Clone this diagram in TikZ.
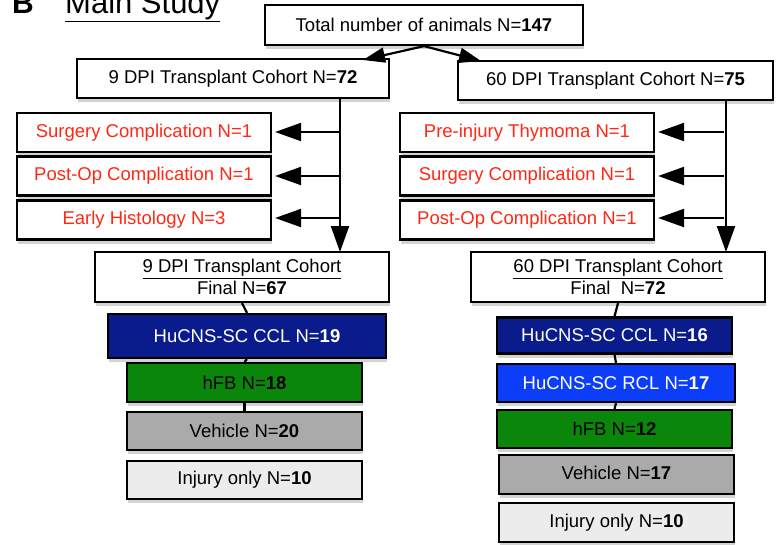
\documentclass[tikz,border=0pt]{standalone}
\usepackage{fontspec}
\setmainfont{Liberation Sans}
\usetikzlibrary{arrows.meta,shadows}
\definecolor{redtxt}{RGB}{255,40,20}
\definecolor{dblue}{RGB}{10,28,140}
\definecolor{bblue}{RGB}{12,62,250}
\definecolor{grn}{RGB}{10,135,10}
\definecolor{gry}{RGB}{170,170,170}
\definecolor{lgry}{RGB}{236,236,236}
\begin{document}
\begin{tikzpicture}[x=1pt,y=-1pt,
  bx/.style={draw=black, line width=2.2pt, fill=white, rectangle, inner sep=0pt,
    font=\fontsize{18.5}{21}\selectfont, align=center,
    drop shadow={shadow xshift=1pt, shadow yshift=-4pt, opacity=0.35, fill=gray}},
  redbx/.style={bx, text=redtxt, minimum width=254pt, minimum height=39pt},
  arr/.style={line width=2.2pt, -{Triangle[length=26pt,width=18pt]}},
  tarr/.style={line width=2.2pt, -{Triangle[length=22pt,width=15pt]}},
  conn/.style={line width=2.2pt}]
\useasboundingbox (0,0) rectangle (778,544);

% title
\node[anchor=base west, inner sep=0pt, font=\fontsize{30}{32}\selectfont\bfseries] (B) at (12,13) {B};
\node[anchor=base west, inner sep=0pt, font=\fontsize{31}{33}\selectfont] (title) at (65,13) {\underline{Main Study}};

% top
\node[bx, minimum width=318pt, minimum height=40pt] (tot) at (424,25) {Total number of animals N=\textbf{147}};
\node[bx, minimum width=312pt, minimum height=39pt] (n9) at (233,78.5) {9 DPI Transplant Cohort N=\textbf{72}};
\node[bx, minimum width=315pt, minimum height=39pt] (n60) at (615.5,80.5) {60 DPI Transplant Cohort N=\textbf{75}};

\coordinate (t9) at (363,60);
\coordinate (t60) at (481,61);
\draw[tarr] (tot.south) -- (t9);
\draw[tarr] (tot.south) -- (t60);

% left exclusions
\node[redbx] (ls1) at (144,132.5) {Surgery Complication N=1};
\node[redbx] (ls2) at (144,176) {\raisebox{3pt}{Post-Op Complication N=1}};
\node[redbx] (ls3) at (144,220) {\raisebox{5pt}{Early Histology N=3}};

% right exclusions
\node[redbx] (rs1) at (527,132.5) {Pre-injury Thymoma N=1};
\node[redbx] (rs2) at (527,176) {Surgery Complication N=1};
\node[redbx] (rs3) at (527,220) {\raisebox{2pt}{Post-Op Complication N=1}};

% finals
\node[bx, minimum width=294pt, minimum height=50pt] (f9) at (242,277)
  {\underline{9 DPI Transplant Cohort}\\[1pt]Final N=\textbf{67}};
\node[bx, minimum width=294pt, minimum height=50pt] (f60) at (618,277)
  {\underline{60 DPI Transplant Cohort}\\[1pt]Final~ N=\textbf{72}};

% vertical arrows
\coordinate (lv0) at (340,98);
\coordinate (lv1) at (340,252);
\coordinate (rv0) at (726,100);
\coordinate (rv1) at (726,252);
\draw[arr] (lv0) -- (lv1);
\draw[arr] (rv0) -- (rv1);

\coordinate (la1) at (340,132);
\coordinate (la2) at (340,176);
\coordinate (la3) at (340,218);
\draw[arr, shorten >=3pt] (la1) -- (ls1.east |- la1);
\draw[arr, shorten >=3pt] (la2) -- (ls2.east |- la2);
\draw[arr, shorten >=3pt] (la3) -- (ls3.east |- la3);

\coordinate (ra1) at (724,132);
\coordinate (ra2) at (724,176);
\coordinate (ra3) at (724,218);
\draw[arr, shorten >=3pt] (ra1) -- (rs1.east |- ra1);
\draw[arr, shorten >=3pt] (ra2) -- (rs2.east |- ra2);
\draw[arr, shorten >=3pt] (ra3) -- (rs3.east |- ra3);

% left groups
\node[bx, fill=dblue, text=white, minimum width=278pt, minimum height=44pt] (lg1) at (247,336) {HuCNS-SC CCL N=\textbf{19}};
\node[bx, fill=grn, minimum width=235pt, minimum height=39pt] (lg2) at (244.5,382.5) {hFB N=\textbf{18}};
\node[bx, fill=gry, minimum width=235pt, minimum height=38pt] (lg3) at (244.5,431) {Vehicle N=\textbf{20}};
\node[bx, fill=lgry, minimum width=235pt, minimum height=38pt] (lg4) at (244.5,480) {Injury only N=\textbf{10}};

\draw[conn] (f9.south) -- (lg1.north);
\draw[conn] (lg1.south) -- (lg2.north);
\draw[conn] (lg2.south) -- (lg3.north);

% right groups
\node[bx, fill=dblue, text=white, minimum width=235pt, minimum height=36pt] (rg1) at (614.5,335.5) {HuCNS-SC CCL N=\textbf{16}};
\node[bx, fill=bblue, text=white, minimum width=238pt, minimum height=38pt] (rg2) at (616,383) {HuCNS-SC RCL N=\textbf{17}};
\node[bx, fill=grn, minimum width=235pt, minimum height=38pt] (rg3) at (614.5,429) {hFB N=\textbf{12}};
\node[bx, fill=gry, minimum width=235pt, minimum height=39pt] (rg4) at (616.5,474.5) {\raisebox{4pt}{Vehicle N=\textbf{17}}};
\node[bx, fill=lgry, minimum width=235pt, minimum height=39pt] (rg5) at (616.5,522.5) {Injury only N=\textbf{10}};

\draw[conn] (f60.south) -- (rg1.north);
\draw[conn] (rg1.south) -- (rg2.north);
\draw[conn] (rg2.south) -- (rg3.north);
\end{tikzpicture}
\end{document}
